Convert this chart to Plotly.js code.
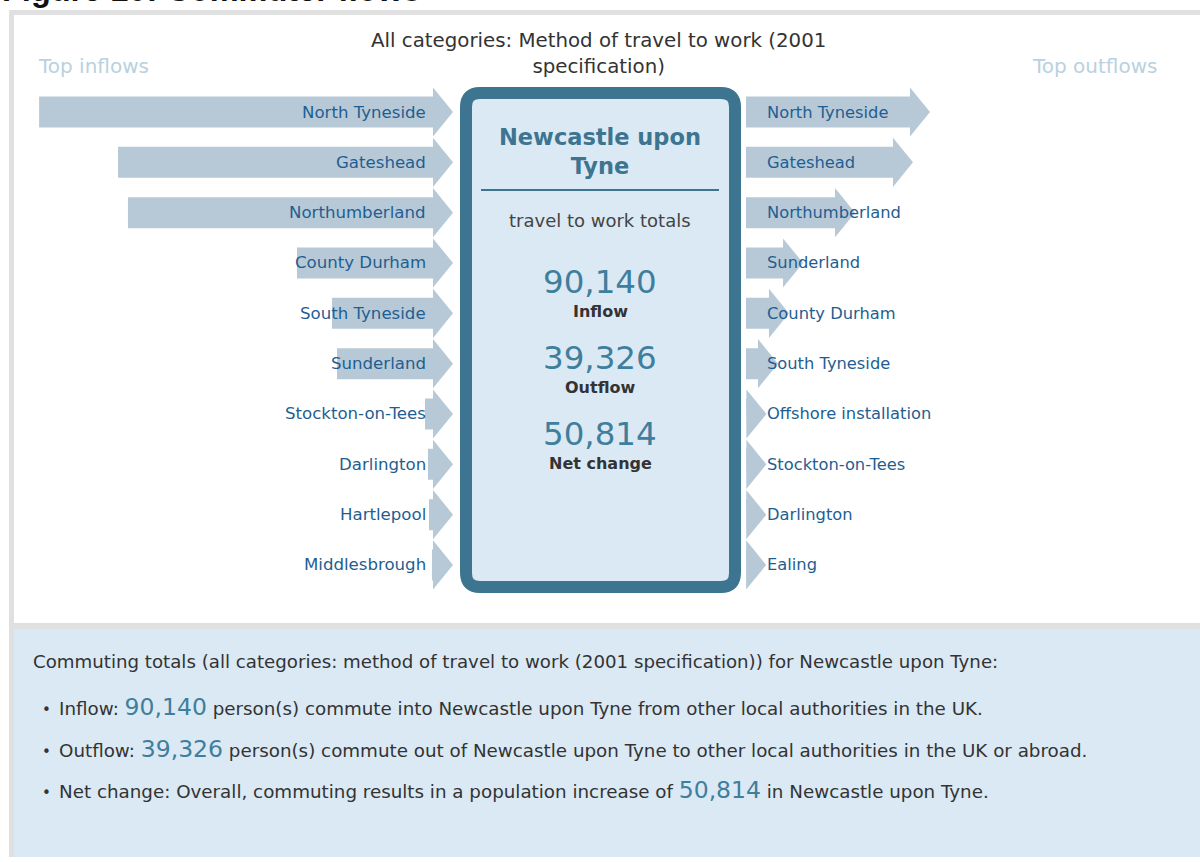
<!DOCTYPE html>
<html>
<head>
<meta charset="utf-8">
<script src="https://cdn.plot.ly/plotly-3.0.1.min.js"></script>
<style>html,body{margin:0;padding:0;background:#fff;}#chart{width:1200px;height:862px;}</style>
</head>
<body>
<div id="chart"></div>
<script>
// ---- data ----
const areaName = "Newcastle upon Tyne";
const inflowPlaces = ["North Tyneside","Gateshead","Northumberland","County Durham","South Tyneside","Sunderland","Stockton-on-Tees","Darlington","Hartlepool","Middlesbrough"];
const inflowValues = [22650, 18110, 17540, 7820, 5810, 5520, 460, 290, 230, 60];
const outflowPlaces = ["North Tyneside","Gateshead","Northumberland","Sunderland","County Durham","South Tyneside","Offshore installation","Stockton-on-Tees","Darlington","Ealing"];
const outflowValues = [9430, 8450, 5120, 2130, 1320, 690, 25, 20, 15, 10];
const totalLabels = ["Inflow","Outflow","Net change"];
const totalValues = [90140, 39326, 50814];

// ---- helpers ----
const W = 1200, H = 862;
const PX = x => x / W;
const PY = y => 1 - y / H;
const fmt = n => String(n).replace(/\B(?=(\d{3})+(?!\d))/g, ",");
const K = 57.5;                 // persons per pixel along the flow axes
const ROW = 50.33, ROW0 = 112;  // row spacing and first row centre (px)
const shaftHalf = 15.5 / ROW, headHalf = 24.6 / ROW, headLen = 20 * K;

const FONT = "DejaVu Sans, Verdana, sans-serif";
const ARROW = "#b7c9d6", LABEL = "#1f5e92", DARK = "#3d7591", NUM = "#3f7e9c", TXT = "#333333";

// inflow arrows (x axis reversed: value grows to the left, head points right past 0)
const ix = [], iy = [];
inflowValues.forEach((v, i) => {
  ix.push(v, 0, 0, -headLen, 0, 0, v, v, null);
  iy.push(i - shaftHalf, i - shaftHalf, i - headHalf, i, i + headHalf, i + shaftHalf, i + shaftHalf, i - shaftHalf, null);
});
const ox = [], oy = [];
outflowValues.forEach((v, i) => {
  ox.push(0, v, v, v + headLen, v, v, 0, 0, null);
  oy.push(i - shaftHalf, i - shaftHalf, i - headHalf, i, i + headHalf, i + shaftHalf, i + shaftHalf, i - shaftHalf, null);
});

const traces = [
  {type: "scatter", mode: "lines", x: ix, y: iy, xaxis: "x", yaxis: "y", fill: "toself", fillcolor: ARROW,
   line: {width: 0, color: ARROW}, hoverinfo: "skip", showlegend: false},
  {type: "scatter", mode: "lines", x: ox, y: oy, xaxis: "x2", yaxis: "y", fill: "toself", fillcolor: ARROW,
   line: {width: 0, color: ARROW}, hoverinfo: "skip", showlegend: false}
];

const annotations = [];
inflowPlaces.forEach((p, i) => annotations.push({xref: "x", yref: "y", x: 5 * K, y: i, text: p, showarrow: false,
  xanchor: "right", yanchor: "middle", font: {family: FONT, size: 16.6, color: LABEL}}));
outflowPlaces.forEach((p, i) => annotations.push({xref: "x2", yref: "y", x: 19 * K, y: i, text: p, showarrow: false,
  xanchor: "left", yanchor: "middle", font: {family: FONT, size: 16.3, color: LABEL}}));

function pa(x, y, text, size, color, xanchor, extra) {
  annotations.push(Object.assign({xref: "paper", yref: "paper", x: PX(x), y: PY(y), text: text, showarrow: false,
    xanchor: xanchor || "center", yanchor: "middle", font: {family: FONT, size: size, color: color}}, extra || {}));
}

// figure caption (cut off at top, as in the source)
annotations.push({xref: "paper", yref: "paper", x: 0, y: PY(10.5), text: "<b>Figure 10: Commuter flows</b>", showarrow: false,
  xanchor: "left", yanchor: "bottom", font: {family: "Liberation Sans, Arial, sans-serif", size: 32.5, color: "#111"}});

pa(598, 54, "All categories: Method of travel to work (2001<br>specification)", 19.8, TXT, "center", {});
pa(36, 66, "Top inflows", 20, "#b9d1e0", "left");
pa(1159, 66, "Top outflows", 20, "#b9d1e0", "right");

// centre panel
pa(600, 152, "<b>Newcastle upon<br>Tyne</b>", 22.5, DARK);
pa(600, 220, "travel to work totals", 18, "#444");
totalValues.forEach((v, i) => {
  pa(600, 282 + i * 76, fmt(v), 32.5, NUM);
  pa(600, 312 + i * 75.5, "<b>" + totalLabels[i] + "</b>", 16, TXT);
});

// bottom text panel
pa(31, 661, "Commuting totals (all categories: method of travel to work (2001 specification)) for " + areaName + ":", 18.2, TXT, "left");
const big = v => '<span style="font-size:23.5px;color:' + NUM + '">' + fmt(v) + '</span>';
const lines = [
  "Inflow: " + big(totalValues[0]) + " person(s) commute into " + areaName + " from other local authorities in the UK.",
  "Outflow: " + big(totalValues[1]) + " person(s) commute out of " + areaName + " to other local authorities in the UK or abroad.",
  "Net change: Overall, commuting results in a population increase of " + big(totalValues[2]) + " in " + areaName + "."
];
lines.forEach((t, i) => {
  pa(40, 710 + i * 41.5, "•", 15, TXT, "left");
  pa(57, 707 + i * 41.5, t, 18.3, TXT, "left");
});

// rounded rectangle helper (pixel coords -> paper)
function rrect(x0, y0, x1, y1, r) {
  const p = (x, y) => PX(x) + "," + PY(y);
  return "M" + p(x0 + r, y0) + " L" + p(x1 - r, y0) + " Q" + p(x1, y0) + " " + p(x1, y0 + r) +
    " L" + p(x1, y1 - r) + " Q" + p(x1, y1) + " " + p(x1 - r, y1) +
    " L" + p(x0 + r, y1) + " Q" + p(x0, y1) + " " + p(x0, y1 - r) +
    " L" + p(x0, y0 + r) + " Q" + p(x0, y0) + " " + p(x0 + r, y0) + " Z";
}

const shapes = [
  {type: "rect", xref: "paper", yref: "paper", x0: PX(9), x1: PX(1200), y0: PY(857), y1: PY(10), fillcolor: "#e0e0e0", line: {width: 0}, layer: "below"},
  {type: "rect", xref: "paper", yref: "paper", x0: PX(14), x1: PX(1200), y0: PY(623), y1: PY(15), fillcolor: "#ffffff", line: {width: 0}, layer: "below"},
  {type: "rect", xref: "paper", yref: "paper", x0: PX(14), x1: PX(1200), y0: PY(857), y1: PY(629), fillcolor: "#dae9f4", line: {width: 0}, layer: "below"},
  {type: "path", xref: "paper", yref: "paper", path: rrect(466, 93, 735, 587, 14), fillcolor: "#dbe9f4", line: {width: 12, color: DARK}, layer: "below"},
  {type: "line", xref: "paper", yref: "paper", x0: PX(481), x1: PX(719), y0: PY(190), y1: PY(190), line: {width: 2, color: DARK}, layer: "above"}
];

const layout = {
  width: W, height: H,
  margin: {l: 0, r: 0, t: 0, b: 0, pad: 0},
  paper_bgcolor: "#ffffff", plot_bgcolor: "rgba(0,0,0,0)",
  showlegend: false,
  xaxis: {domain: [0, 453 / W], range: [433 * K, -20 * K], visible: false, fixedrange: true},
  xaxis2: {domain: [746 / W, 1], range: [0, 454 * K], anchor: "y", visible: false, fixedrange: true},
  yaxis: {domain: [0, 1], range: [(H - ROW0) / ROW, -ROW0 / ROW], visible: false, fixedrange: true},
  shapes: shapes,
  annotations: annotations
};

Plotly.newPlot("chart", traces, layout, {displayModeBar: false, staticPlot: true});
</script>
</body>
</html>
